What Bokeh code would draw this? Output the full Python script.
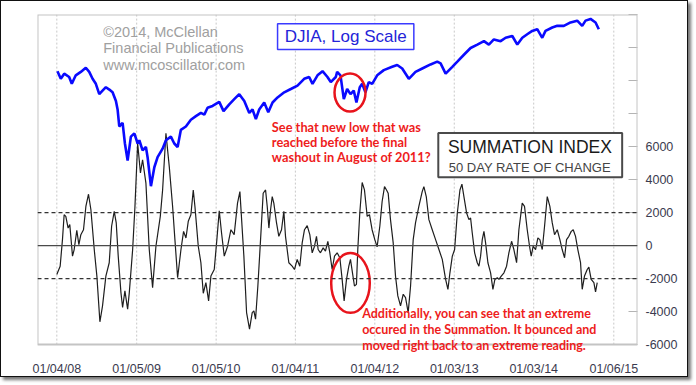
import numpy as np
import pandas as pd
from bokeh.plotting import figure
from bokeh.models import (Range1d, LogScale, FixedTicker, DatetimeTickFormatter,
                          Span, Label, BoxAnnotation)
from bokeh.embed import file_html
from bokeh.resources import INLINE

# ---------------- data ----------------
# Summation Index, 50 day rate of change (decimal year, value)
sum_year = [
    2008.008, 2008.050, 2008.079, 2008.100, 2008.121, 2008.150, 2008.171, 2008.205, 2008.226, 2008.259,
    2008.285, 2008.310, 2008.343, 2008.373, 2008.406, 2008.436, 2008.478, 2008.511, 2008.549, 2008.582,
    2008.624, 2008.666, 2008.696, 2008.729, 2008.754, 2008.779, 2008.813, 2008.834, 2008.863, 2008.897,
    2008.918, 2008.960, 2008.989, 2009.023, 2009.058, 2009.085, 2009.127, 2009.169, 2009.211, 2009.253,
    2009.308, 2009.337, 2009.379, 2009.421, 2009.463, 2009.492, 2009.526, 2009.568, 2009.601, 2009.631,
    2009.660, 2009.693, 2009.723, 2009.744, 2009.786, 2009.819, 2009.849, 2009.882, 2009.916, 2009.945,
    2009.987, 2010.020, 2010.050, 2010.079, 2010.113, 2010.155, 2010.197, 2010.238, 2010.280, 2010.310,
    2010.360, 2010.394, 2010.431, 2010.465, 2010.486, 2010.507, 2010.536, 2010.570, 2010.603, 2010.633,
    2010.654, 2010.675, 2010.696, 2010.717, 2010.737, 2010.771, 2010.800, 2010.834, 2010.863, 2010.884,
    2010.926, 2010.968, 2010.997, 2011.031, 2011.064, 2011.094, 2011.123, 2011.157, 2011.190, 2011.220,
    2011.249, 2011.274, 2011.295, 2011.324, 2011.358, 2011.387, 2011.417, 2011.442, 2011.471, 2011.501,
    2011.534, 2011.568, 2011.597, 2011.622, 2011.652, 2011.681, 2011.702, 2011.727, 2011.752, 2011.777,
    2011.794, 2011.819, 2011.849, 2011.878, 2011.912, 2011.941, 2011.974, 2012.008, 2012.037, 2012.071,
    2012.100, 2012.130, 2012.155, 2012.176, 2012.205, 2012.239, 2012.268, 2012.297, 2012.331, 2012.365,
    2012.394, 2012.427, 2012.457, 2012.490, 2012.519, 2012.561, 2012.603, 2012.624, 2012.654, 2012.687,
    2012.729, 2012.771, 2012.813, 2012.855, 2012.897, 2012.926, 2012.951, 2012.981, 2013.010, 2013.044,
    2013.077, 2013.102, 2013.127, 2013.161, 2013.190, 2013.211, 2013.232, 2013.262, 2013.295, 2013.316,
    2013.337, 2013.358, 2013.379, 2013.400, 2013.429, 2013.463, 2013.492, 2013.517, 2013.547, 2013.568,
    2013.597, 2013.631, 2013.664, 2013.693, 2013.727, 2013.756, 2013.790, 2013.819, 2013.861, 2013.890,
    2013.924, 2013.953, 2013.974, 2013.999, 2014.029, 2014.058, 2014.083, 2014.113, 2014.142, 2014.176,
    2014.209, 2014.239, 2014.268, 2014.302, 2014.335, 2014.364, 2014.394, 2014.419, 2014.448, 2014.478,
    2014.503, 2014.532, 2014.561, 2014.595, 2014.616, 2014.645, 2014.679, 2014.700, 2014.729, 2014.763,
    2014.784, 2014.805,
]
sum_value = [
    -1750, -1250, 360, 1870, 1770, 1060, 1270, -640, -240, 920,
    60, 660, 960, 2370, 3110, 2170, -240, -1850, -4620, -3650,
    -1850, -1040, 1170, 2070, 1370, -640, -2850, -3750, -2750, -3850,
    -2850, -240, 2370, 6200, 4400, 5200, 3780, -240, -2550, -40,
    1770, 3370, 6800, 4780, 2370, 360, -1950, -240, 860, 460,
    1470, 1870, 3370, 2370, -40, -1040, -2890, -2250, -3350, -1850,
    -1450, 360, 2110, 760, -640, -40, 960, 660, 2570, 3270,
    -640, -4060, -5060, -4060, -3960, -4460, -2450, 360, 3170, 3370,
    2370, 1060, 2170, 2970, 2570, 1370, 560, 960, 2070, 560,
    -1040, -1250, -1450, -840, -1250, 160, 960, 1210, 660, -440,
    -40, 560, -240, -440, -140, -340, 260, -440, -1450, -640,
    -440, -740, -2050, -3350, -2050, -1250, -840, -1650, -2450, -2350,
    -240, 1970, 3820, 3370, 1770, 1870, 960, 360, -80, 1170,
    2670, 3570, 3370, 3170, 1570, 160, -1850, -3050, -3650, -2950,
    -3150, -4060, -2450, 360, 1370, 2370, 3270, 3570, 2970, 1570,
    960, 360, -240, -840, -2050, -2650, -1650, -640, -240, 1970,
    3370, 3720, 2970, 1970, 1570, 1670, 760, -440, -1040, -1250,
    -640, 360, 860, 160, -1040, -1650, -2650, -2050, -1950, -2050,
    -1850, -1650, -1250, -440, 260, -240, -1040, 960, 2570, 2370,
    960, -40, -640, -40, -240, 460, 360, -240, 1170, 2970,
    2370, 1370, 660, 960, 360, -240, -740, 360, 560, 860,
    960, 560, -240, -1040, -2650, -1850, -1450, -1300, -2050, -2250,
    -2810, -2250,
]

# DJIA (decimal year, close), plotted on a log scale
djia_year = [
    2008.016, 2008.058, 2008.101, 2008.163, 2008.196, 2008.246, 2008.309, 2008.372, 2008.415, 2008.457,
    2008.498, 2008.541, 2008.582, 2008.624, 2008.667, 2008.708, 2008.750, 2008.771, 2008.792, 2008.834,
    2008.863, 2008.897, 2008.938, 2008.981, 2009.023, 2009.044, 2009.085, 2009.127, 2009.148, 2009.190,
    2009.233, 2009.274, 2009.337, 2009.379, 2009.441, 2009.484, 2009.526, 2009.567, 2009.630, 2009.693,
    2009.756, 2009.819, 2009.862, 2009.903, 2009.966, 2010.050, 2010.104, 2010.176, 2010.239, 2010.302,
    2010.365, 2010.428, 2010.469, 2010.511, 2010.553, 2010.616, 2010.667, 2010.721, 2010.784, 2010.868,
    2010.951, 2011.035, 2011.119, 2011.182, 2011.224, 2011.287, 2011.350, 2011.412, 2011.454, 2011.517,
    2011.534, 2011.576, 2011.618, 2011.660, 2011.702, 2011.743, 2011.777, 2011.819, 2011.849, 2011.890,
    2011.932, 2011.975, 2012.038, 2012.121, 2012.226, 2012.289, 2012.352, 2012.435, 2012.519, 2012.604,
    2012.708, 2012.792, 2012.834, 2012.897, 2012.981, 2013.044, 2013.127, 2013.211, 2013.296, 2013.379,
    2013.441, 2013.504, 2013.589, 2013.652, 2013.736, 2013.799, 2013.862, 2013.924, 2013.987, 2014.050,
    2014.113, 2014.154, 2014.239, 2014.302, 2014.385, 2014.469, 2014.553, 2014.616, 2014.658, 2014.721,
    2014.784, 2014.825,
]
djia_close = [
    12760, 12210, 12580, 12340, 11860, 12460, 12710, 13020, 12710, 12210,
    11860, 11170, 11400, 11630, 11470, 11290, 10740, 10220, 9260, 9450,
    8390, 7600, 8730, 8900, 8390, 8550, 8060, 8220, 7750, 6550,
    7310, 7750, 8140, 8550, 8730, 8390, 8220, 9080, 9260, 9630,
    9830, 10020, 9920, 10320, 10430, 10680, 10120, 10530, 10850, 11170,
    10740, 10020, 10220, 9670, 10220, 10640, 10060, 10640, 10960, 11290,
    11510, 11740, 12210, 12340, 11860, 12460, 12760, 12340, 11980, 12340,
    12710, 12460, 10850, 11510, 11170, 11400, 10640, 11630, 11860, 11290,
    11980, 11860, 12460, 12840, 13090, 13230, 12960, 12210, 12710, 12960,
    13270, 13490, 13350, 12580, 13090, 13490, 14040, 14600, 14890, 15190,
    14890, 15340, 15190, 15490, 15650, 14890, 15490, 15810, 16120, 16280,
    15490, 16120, 16440, 16600, 16600, 16930, 17110, 16600, 17110, 17280,
    16930, 16280,
]

tick_dates = ["2008-01-04", "2009-01-05", "2010-01-05", "2011-01-04",
              "2012-01-04", "2013-01-03", "2014-01-03", "2015-01-06"]
tick_labels = ["01/04/08", "01/05/09", "01/05/10", "01/04/11",
               "01/04/12", "01/03/13", "01/03/14", "01/06/15"]
y_ticks = [-6000, -4000, -2000, 0, 2000, 4000, 6000, 8000, 10000, 12000, 14000]
y_tick_labels = ["-6000", "-4000", "-2000", "0", "2000", "4000", "6000", "", "", "", ""]


# ---------------- helpers ----------------
def to_dt(y):
    yr = int(np.floor(y))
    a = pd.Timestamp(year=yr, month=1, day=1)
    b = pd.Timestamp(year=yr + 1, month=1, day=1)
    return a + (b - a) * (y - yr)


def X(y):
    return to_dt(y).value / 1e6


sum_dt = [to_dt(v) for v in sum_year]
djia_dt = [to_dt(v) for v in djia_year]
tick_dt = [pd.Timestamp(d) for d in tick_dates]
tick_ms = [t.value / 1e6 for t in tick_dt]

X0, X1 = X(2007.765), X(2015.312)
Y_BOTTOM, Y_TOP = -6000, 14000

# ---------------- figure ----------------
p = figure(width=688, height=377, x_axis_type="datetime", y_axis_location="right",
           x_range=Range1d(X0, X1), y_range=Range1d(-6600, Y_TOP),
           output_backend="svg", toolbar_location=None,
           min_border_left=36, min_border_right=52, min_border_top=13, min_border_bottom=22)
p.styles = {"border": "1px solid #111111", "box-shadow": "3px 3px 3px #777777"}
p.background_fill_color = "white"
p.border_fill_color = "white"
p.outline_line_color = None

p.extra_y_ranges = {"djia": Range1d(2467, 17730)}
p.extra_y_scales = {"djia": LogScale()}

# x axis
xt = FixedTicker(ticks=tick_ms)
p.xaxis.ticker = xt
p.xaxis.formatter = DatetimeTickFormatter(years="%m/%d/%y", months="%m/%d/%y", days="%m/%d/%y",
                                          hours="%m/%d/%y", minutes="%m/%d/%y")
p.xaxis.major_label_overrides = dict(zip(tick_ms, tick_labels))
p.xaxis.axis_line_color = None
p.xaxis.major_tick_line_color = None
p.xaxis.minor_tick_line_color = None
p.xaxis.major_label_standoff = 1
p.xaxis.major_label_text_font = "Liberation Sans"
p.xaxis.major_label_text_font_size = "12.5px"
p.xaxis.major_label_text_color = "#3b3b4f"

# y axis (right)
p.yaxis.ticker = FixedTicker(ticks=y_ticks)
p.yaxis.major_label_overrides = dict(zip(y_ticks, y_tick_labels))
p.yaxis.axis_line_color = None
p.yaxis.major_tick_in = 9
p.yaxis.major_tick_out = 0
p.yaxis.major_tick_line_color = "#b4b4b4"
p.yaxis.minor_tick_line_color = None
p.yaxis.major_label_standoff = 8
p.yaxis.major_label_text_font = "Liberation Sans"
p.yaxis.major_label_text_font_size = "12.5px"
p.yaxis.major_label_text_color = "#3b3b4f"

# grids: dotted verticals at the date ticks, bounded by the chart box
p.ygrid.visible = False
p.xgrid.visible = False
p.segment(x0=tick_dt, y0=[Y_BOTTOM] * len(tick_dt), x1=tick_dt, y1=[Y_TOP] * len(tick_dt),
          line_color="#c8c8c8", line_dash="2 2", line_width=1)

# chart box
p.add_layout(BoxAnnotation(left=X0, right=X1, top=Y_TOP, bottom=Y_BOTTOM,
                           fill_alpha=0, line_color="#c4c4c4", line_width=2, line_alpha=1))

# reference lines
p.add_layout(Span(location=0, dimension="width", line_color="#4a4a4a", line_width=1.3))
for lv in (2000, -2000):
    p.add_layout(Span(location=lv, dimension="width", line_color="#333333",
                      line_width=1.2, line_dash="4 3"))

# series
p.line(sum_dt, sum_value, line_color="#1e1e1e", line_width=1.2)
p.line(djia_dt, djia_close, y_range_name="djia", line_color="#0a0aff", line_width=2.6)

# red circles
p.ellipse(x=[X(2011.696)], y=[9271], width=31, height=38, width_units="screen",
          height_units="screen", fill_alpha=0, line_color="#e8141c", line_width=2.5)
p.ellipse(x=[X(2011.702)], y=[-2265], width=38.6, height=59.7, width_units="screen",
          height_units="screen", fill_alpha=0, line_color="#e8141c", line_width=2.5)

# copyright
for txt, yy in [("©2014, McClellan", 12934), ("Financial Publications", 11952),
                ("www.mcoscillator.com", 10928)]:
    p.add_layout(Label(x=X(2008.591), y=yy, text=txt, text_font="Liberation Sans",
                       text_font_size="14.5px", text_color="#a0a0a0",
                       text_align="left", text_baseline="middle"))

# DJIA box
p.add_layout(BoxAnnotation(left=X(2010.784), right=X(2012.498), top=13440, bottom=11873,
                           fill_color="white", fill_alpha=1, line_color="#3a3aff",
                           line_width=1.5, line_alpha=1))
p.add_layout(Label(x=X(2011.642), y=12657, text="DJIA, Log Scale", text_font="Liberation Sans",
                   text_font_size="17px", text_color="#2424d8",
                   text_align="center", text_baseline="middle"))

# Summation box
p.add_layout(BoxAnnotation(left=X(2012.805), right=X(2015.119), top=6813, bottom=4139,
                           fill_color="white", fill_alpha=1, line_color="#4a4a4a",
                           line_width=2, line_alpha=1))
p.add_layout(Label(x=X(2013.958), y=5946, text="SUMMATION INDEX", text_font="Liberation Sans",
                   text_font_size="17.5px", text_color="#1a1a1a",
                   text_align="center", text_baseline="middle"))
p.add_layout(Label(x=X(2013.956), y=4741, text="50 DAY RATE OF CHANGE", text_font="Liberation Sans",
                   text_font_size="13px", text_color="#444444",
                   text_align="center", text_baseline="middle"))

# red notes
for txt, yy in [("See that new low that was", 7211), ("reached before the final", 6247),
                ("washout in August of 2011?", 5343)]:
    p.add_layout(Label(x=X(2010.712), y=yy, text=txt, text_font="Lato", text_font_style="bold",
                       text_font_size="12.8px", text_color="#ee1c1c",
                       text_align="left", text_baseline="middle"))
for txt, yy in [("Additionally, you can see that an extreme", -4090),
                ("occured in the Summation. It bounced and", -5066),
                ("moved right back to an extreme reading.", -6030)]:
    p.add_layout(Label(x=X(2011.849), y=yy, text=txt, text_font="Lato", text_font_style="bold",
                       text_font_size="12.5px", text_color="#ee1c1c",
                       text_align="left", text_baseline="middle"))

open("out.html", "w").write(file_html(p, INLINE))
